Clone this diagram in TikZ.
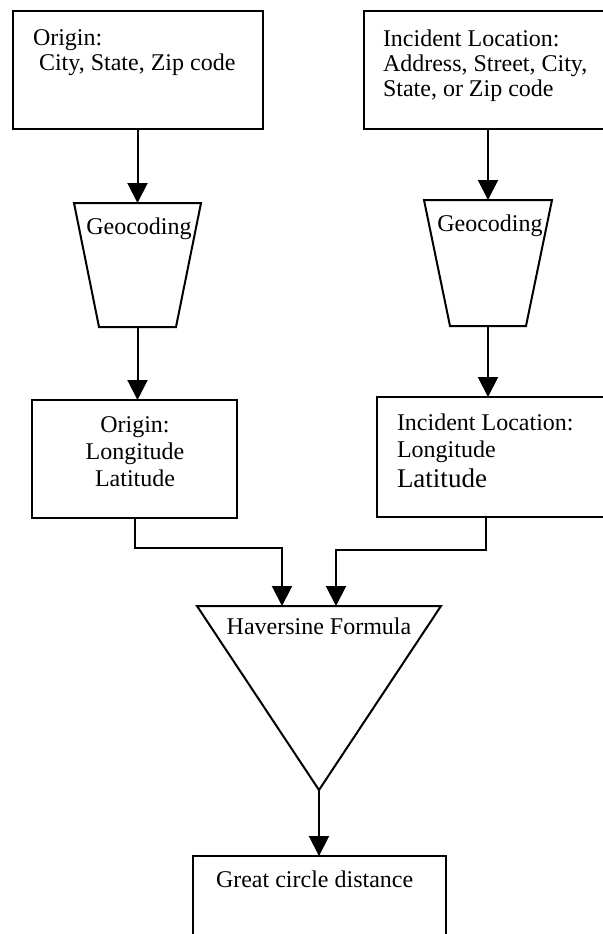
\documentclass[tikz,border=0pt]{standalone}
\usepackage{fontspec}
\setmainfont{Liberation Serif}
\usetikzlibrary{arrows.meta}
\tikzset{
  box/.style={draw, line width=1pt, rectangle, inner sep=0pt, outer sep=0pt},
  shp/.style={draw, line width=1pt, line join=miter},
  txt/.style={inner sep=0pt, outer sep=0pt, font=\fontsize{12}{12.5}\selectfont},
  arr/.style={line width=1pt, -{Triangle[width=10pt,length=10pt]}},
  conn/.style={line width=1pt}
}
\begin{document}
\begin{tikzpicture}[x=0.5pt,y=-0.5pt]
\useasboundingbox (0,0) rectangle (603,934);
\fill[white] (0,0) rectangle (603,934);
\clip (0,0) rectangle (603,934);
% boxes
\node[box, minimum width=125pt, minimum height=59pt] (o1) at (138,70) {};
\node[box, minimum width=128pt, minimum height=59pt] (i1) at (492,70) {};
\node[box, minimum width=102.5pt, minimum height=59pt] (o2) at (134.5,459) {};
\node[box, minimum width=121.5pt, minimum height=60pt] (i2) at (498.5,457) {};
\node[box, minimum width=126.5pt, minimum height=52pt] (b) at (319.5,908) {};
% geocoding trapezia
\coordinate (g1n) at (137.5,203);
\coordinate (g1s) at (137.5,327);
\draw[shp] (74,203) -- (201,203) -- (176,327) -- (99,327) -- cycle;
\coordinate (g2n) at (488,200);
\coordinate (g2s) at (488,326);
\draw[shp] (424,200) -- (552,200) -- (526,326) -- (450,326) -- cycle;
% triangle
\coordinate (tl) at (197,606);
\coordinate (tr) at (441,606);
\coordinate (ta) at (319,790);
\coordinate (h1) at (282,606);
\coordinate (h2) at (336,606);
\draw[shp] (tl) -- (tr) -- (ta) -- cycle;
% texts
\node[txt, anchor=north west, align=left] (o1t) at (33,29.5) {Origin:\\\hspace*{3pt}City, State, Zip code};
\node[txt, anchor=north west, align=left] (i1t) at (383,29.5) {Incident Location:\\Address, Street, City,\\State, or Zip code};
\node[txt, anchor=base] (g1t) at (139,234) {Geocoding};
\node[txt, anchor=base] (g2t) at (490,231) {Geocoding};
\node[txt, anchor=north, align=center, font=\fontsize{12}{13.5}\selectfont] (o2t) at (135,416.5) {Origin:\\Longitude\\Latitude};
\node[txt, anchor=north west, align=left, font=\fontsize{12}{13.5}\selectfont] (i2t) at (397,413.5) {Incident Location:\\Longitude\\[1.5pt]{\fontsize{13.5}{15}\selectfont Latitude}};
\node[txt, anchor=base] (ht) at (319,634) {Haversine Formula};
\node[txt, anchor=base west] (bt) at (216,887) {Great circle distance};
% connectors
\draw[arr] (g1n |- o1.south) -- (g1n);
\draw[arr] (g2n |- i1.south) -- (g2n);
\draw[arr] (g1s) -- (g1s |- o2.north);
\draw[arr] (g2s) -- (g2s |- i2.north);
\draw[arr] (o2.south) -- ++(0,30) -| (h1);
\draw[arr] ([xshift=-6.25pt]i2.south) -- ++(0,33) -| (h2);
\draw[arr] (ta) -- (ta |- b.north);
\end{tikzpicture}
\end{document}
